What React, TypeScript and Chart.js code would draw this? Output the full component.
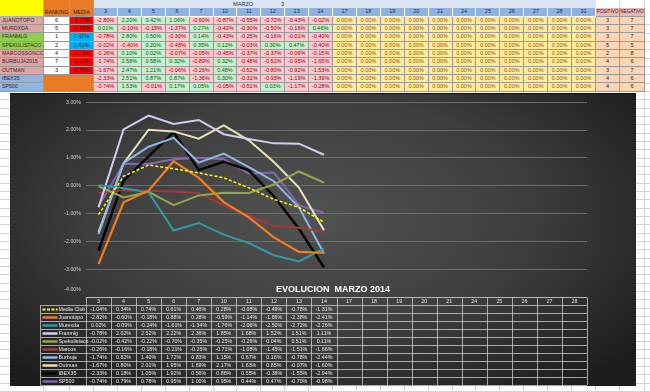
import React, { useEffect, useRef } from 'react';
import { Chart, registerables } from 'chart.js';
Chart.register(...registerables);

// ---------- chart data ----------
const categories = ['3', '4', '5', '6', '7', '10', '11', '12', '13', '14', '17', '18', '19', '20', '21', '24', '25', '26', '27', '28'];
const seriesNames = ['Media Club', 'Juanotopo', 'Murexda', 'Franmlg', 'Spekulistaco', 'Marcos', 'Burbuja', 'Outman', 'IBEX35', 'SP500'];
const mediaClub = [-1.04, 0.34, 0.74, 0.61, 0.46, 0.28, -0.08, -0.49, -0.78, -1.31];
const juanotopo = [-2.82, -0.60, -0.18, 0.88, 0.28, -0.59, -1.14, -1.86, -2.38, -2.41];
const murexda = [0.02, -0.09, -0.24, -1.61, -1.34, -1.76, -2.06, -2.50, -2.72, -2.26];
const franmlg = [-0.78, 2.02, 2.52, 2.22, 2.36, 1.85, 1.68, 1.52, 1.51, 1.11];
const spekulistaco = [-0.02, -0.42, -0.22, -0.70, -0.35, -0.25, -0.26, 0.04, 0.51, 0.11];
const marcos = [-0.26, -0.16, -0.18, -0.21, -0.26, -0.71, -1.08, -1.45, -1.51, -1.66];
const burbuja = [-1.74, 0.82, 1.40, 1.72, 0.83, 1.15, 0.67, 0.16, -0.78, -2.44];
const outman = [-1.67, 0.80, 2.01, 1.95, 1.69, 2.17, 1.63, 0.85, -0.07, -1.60];
const ibex35 = [-2.33, 0.18, 1.05, 1.92, 0.56, 0.86, 0.55, -0.38, -1.55, -2.94];
const sp500 = [-0.74, 0.79, 0.78, 0.95, 1.00, 0.95, 0.44, 0.47, -0.70, -0.98];
const seriesValues = [mediaClub, juanotopo, murexda, franmlg, spekulistaco, marcos, burbuja, outman, ibex35, sp500];
const yTicks = [3, 2, 1, 0, -1, -2, -3, -4];
const chartTitle = 'EVOLUCION  MARZO 2014';

// ---------- spreadsheet data ----------
const monthLabel = 'MARZO';
const monthNumber = '3';
const topDays = ['3', '4', '5', '6', '7', '10', '11', '12', '13', '14', '17', '18', '19', '20', '21', '24', '25', '26', '27', '28', '31'];
const players = ['JUANOTOPO', 'MURDXDA', 'FRANMLG', 'SPEKULISTACO', 'MARCOSSONCCO', 'BURBUJA2015', 'OUTMAN', 'IBEX35', 'SP500'];
const rankings = [6, 5, 1, 2, 4, 7, 3];
const medias = [-1.10, -0.95, 1.42, 1.41, -0.75, -1.15, -0.25];
const dJuanotopo = [-2.80, 2.20, 0.42, 1.06, -0.60, -0.87, -0.55, -0.72, -0.43, -0.02, 0, 0, 0, 0, 0, 0, 0, 0, 0, 0, 0];
const dMurdxda = [0.01, -0.10, -0.15, -1.37, 0.27, -0.42, -0.30, -0.50, -0.16, 0.46, 0, 0, 0, 0, 0, 0, 0, 0, 0, 0, 0];
const dFranmlg = [-0.78, 2.80, 0.50, -0.30, 0.14, -0.43, -0.25, -0.16, -0.01, -0.40, 0, 0, 0, 0, 0, 0, 0, 0, 0, 0, 0];
const dSpekulistaco = [-0.02, -0.40, 0.20, -0.48, 0.35, 0.12, -0.03, 0.30, 0.47, -0.40, 0, 0, 0, 0, 0, 0, 0, 0, 0, 0, 0];
const dMarcos = [-0.26, 0.10, 0.02, -0.07, -0.05, -0.45, -0.37, -0.37, -0.06, -0.15, 0, 0, 0, 0, 0, 0, 0, 0, 0, 0, 0];
const dBurbuja = [-1.74, 2.56, 0.58, 0.32, -0.89, 0.32, -0.48, -0.51, -0.95, -1.65, 0, 0, 0, 0, 0, 0, 0, 0, 0, 0, 0];
const dOutman = [-1.67, 2.47, 1.21, -0.06, -0.26, 0.48, -0.52, -0.80, -0.92, -1.53, 0, 0, 0, 0, 0, 0, 0, 0, 0, 0, 0];
const dIbex35 = [-2.33, 2.51, 0.87, 0.87, -1.36, 0.30, -0.31, -0.93, -1.19, -1.39, 0, 0, 0, 0, 0, 0, 0, 0, 0, 0, 0];
const dSp500 = [-0.74, 1.53, -0.01, 0.17, 0.05, -0.05, -0.51, 0.03, -1.17, -0.28, 0, 0, 0, 0, 0, 0, 0, 0, 0, 0, 0];
const dailyRows = [dJuanotopo, dMurdxda, dFranmlg, dSpekulistaco, dMarcos, dBurbuja, dOutman, dIbex35, dSp500];
const positivos = [3, 3, 3, 5, 2, 4, 3, 4, 4];
const negativos = [7, 7, 7, 5, 8, 6, 7, 6, 6];

// ---------- styles ----------
const seriesColors = ['#ffff00', '#f47d1e', '#2f9aa6', '#d3ccec', '#93a84e', '#a23b38', '#8fb6e6', '#e9e2b8', '#000000', '#8466b0'];
const seriesWidths = [1.5, 2.2, 2, 2, 2, 2, 2, 2, 2.4, 2];
const nameBg = ['#dea3a2', '#dea3a2', '#8ed04d', '#8ed04d', '#dea3a2', '#dea3a2', '#dea3a2', '#8fb4e3', '#8fb4e3'];
const FONT = '"Liberation Sans", Arial, sans-serif';

const fmt = (v: number) => v.toFixed(2) + '%';

const tablePlugin = {
  id: 'dataTable',
  afterDraw(chart: any) {
    const { ctx, chartArea: ca, scales } = chart;
    const xs = scales.x;
    const ys = scales.y;
    const n = categories.length;
    const band = (ca.right - ca.left) / n;
    const top = Math.round(ys.getPixelForValue(-4)) + 0.5;
    const headH = 7.5;
    const rowH = 8;
    const legendLeft = 30.5;
    const bottom = top + headH + rowH * seriesNames.length;
    ctx.save();
    ctx.fillStyle = '#ffffff';
    ctx.font = 'bold 9px ' + FONT;
    ctx.textAlign = 'center';
    ctx.textBaseline = 'middle';
    ctx.fillText(chartTitle, 323, top - 8);
    ctx.font = '5.3px ' + FONT;
    ctx.fillStyle = '#d0d0d0';
    ctx.textAlign = 'right';
    ctx.fillText(fmt(-4), ca.left - 5, top - 8);
    ctx.strokeStyle = 'rgba(210,210,210,0.75)';
    ctx.lineWidth = 1;
    ctx.beginPath();
    ctx.moveTo(ca.left, top);
    ctx.lineTo(ca.right, top);
    for (let r = 0; r <= seriesNames.length; r++) {
      const yy = Math.round(top + headH + r * rowH) + 0.5;
      ctx.moveTo(legendLeft, yy);
      ctx.lineTo(ca.right, yy);
    }
    for (let i = 0; i <= n; i++) {
      const xx = Math.round(ca.left + i * band) + 0.5;
      ctx.moveTo(xx, top);
      ctx.lineTo(xx, bottom);
    }
    ctx.moveTo(legendLeft, top + headH);
    ctx.lineTo(legendLeft, bottom);
    ctx.stroke();
    ctx.fillStyle = '#e8e8e8';
    ctx.font = '5.3px ' + FONT;
    ctx.textAlign = 'center';
    categories.forEach((c, i) => ctx.fillText(c, xs.getPixelForValue(i), top + headH / 2 + 0.5));
    seriesNames.forEach((name, r) => {
      const cy = top + headH + r * rowH + rowH / 2 + 0.5;
      ctx.save();
      ctx.strokeStyle = seriesColors[r];
      ctx.lineWidth = r === 0 ? 2 : 2.5;
      if (r === 0) ctx.setLineDash([3, 1.5]);
      ctx.beginPath();
      ctx.moveTo(legendLeft + 2, cy);
      ctx.lineTo(legendLeft + 17, cy);
      ctx.stroke();
      ctx.restore();
      ctx.fillStyle = '#ececec';
      ctx.textAlign = 'left';
      ctx.fillText(name, legendLeft + 18, cy);
      ctx.textAlign = 'center';
      seriesValues[r].forEach((v, i) => ctx.fillText(fmt(v), xs.getPixelForValue(i), cy));
    });
    ctx.restore();
  },
};

const colX = (() => {
  const xs = [0, 44, 70, 94];
  const w = (596 - 94) / topDays.length;
  for (let i = 1; i <= topDays.length; i++) xs.push(94 + i * w);
  xs.push(620, 645);
  return xs;
})();
const ROW0 = 0, ROW1 = 8.4, DATA0 = 16.8, RH = 8.33;

function Cell(props: { l: number; t: number; w: number; h: number; bg: string; color?: string; text?: string; bold?: boolean; align?: string; border?: string; size?: number }) {
  const { l, t, w, h, bg, color = '#222', text = '', bold = false, align = 'center', border = '#9a9a9a', size = 5.5 } = props;
  return (
    <div
      style={{
        position: 'absolute', left: l, top: t, width: w, height: h, background: bg, color,
        boxSizing: 'border-box', borderRight: `1px solid ${border}`, borderBottom: `1px solid ${border}`,
        fontSize: size, lineHeight: `${h - 1}px`, textAlign: align as any, fontWeight: bold ? 700 : 400,
        whiteSpace: 'nowrap', overflow: 'hidden', paddingLeft: align === 'left' ? 2 : 0, fontFamily: FONT,
      }}
    >
      {text}
    </div>
  );
}

function TopTable() {
  const cells: any[] = [];
  cells.push(<Cell key="corner" l={0} t={0} w={44} h={DATA0} bg="#ffff00" border="#b0b0b0" />);
  cells.push(
    <div key="rankh" style={{ position: 'absolute', left: 44, top: 0, width: 26, height: DATA0, background: '#e97b25', borderRight: '1px solid #9a9a9a', borderBottom: '1px solid #9a9a9a', boxSizing: 'border-box', fontSize: 5.2, color: '#3a2010', textAlign: 'center', lineHeight: '6px', paddingTop: 9, fontFamily: FONT }}>RANKING</div>
  );
  cells.push(
    <div key="mediah" style={{ position: 'absolute', left: 70, top: 0, width: 24, height: DATA0, background: '#e97b25', borderRight: '1px solid #9a9a9a', borderBottom: '1px solid #9a9a9a', boxSizing: 'border-box', fontSize: 5.2, color: '#3a2010', textAlign: 'center', lineHeight: '6px', paddingTop: 9, fontFamily: FONT }}>MEDIA</div>
  );
  cells.push(
    <div key="month" style={{ position: 'absolute', left: 94, top: ROW0, width: 596 - 94, height: ROW1, background: '#dce6f2', fontFamily: FONT, fontSize: 5.6, color: '#1f2f4f' }}>
      <span style={{ position: 'absolute', left: 139, top: 0, lineHeight: '8px' }}>{monthLabel}</span>
      <span style={{ position: 'absolute', left: 187, top: 0, lineHeight: '8px' }}>{monthNumber}</span>
    </div>
  );
  topDays.forEach((d, i) => {
    cells.push(<Cell key={'dh' + i} l={colX[3 + i]} t={ROW1} w={colX[4 + i] - colX[3 + i]} h={DATA0 - ROW1} bg="#8db3e2" color="#1f2f55" text={d} border="#ffffff" />);
  });
  const pi = colX.length - 3;
  cells.push(<Cell key="posh" l={colX[pi]} t={ROW1} w={colX[pi + 1] - colX[pi]} h={DATA0 - ROW1} bg="#e6b8b7" color="#3a1a1a" text="POSITIVO" size={4.6} />);
  cells.push(<Cell key="negh" l={colX[pi + 1]} t={ROW1} w={colX[pi + 2] - colX[pi + 1]} h={DATA0 - ROW1} bg="#e6b8b7" color="#3a1a1a" text="NEGATIVO" size={4.6} />);
  players.forEach((p, r) => {
    const t = DATA0 + r * RH;
    cells.push(<Cell key={'n' + r} l={0} t={t} w={44} h={RH} bg={nameBg[r]} color="#3a2626" text={p} align="left" size={5.2} />);
    if (r < rankings.length) {
      cells.push(<Cell key={'r' + r} l={44} t={t} w={26} h={RH} bg="#ffffff" color="#111" text={String(rankings[r])} />);
      const m = medias[r];
      cells.push(<Cell key={'m' + r} l={70} t={t} w={24} h={RH} bg={m >= 0 ? '#00b0f0' : '#ff0000'} color={m >= 0 ? '#10304a' : '#5a0000'} text={fmt(m)} />);
    }
    dailyRows[r].forEach((v, i) => {
      let bg = '#ffeb9c', color = '#9c5700';
      if (v > 0) { bg = '#c6efce'; color = '#006100'; }
      else if (v < 0) { bg = '#ffc7ce'; color = '#9c0006'; }
      cells.push(<Cell key={'v' + r + '_' + i} l={colX[3 + i]} t={t} w={colX[4 + i] - colX[3 + i]} h={RH} bg={bg} color={color} text={fmt(v)} />);
    });
    cells.push(<Cell key={'p' + r} l={colX[pi]} t={t} w={colX[pi + 1] - colX[pi]} h={RH} bg="#fcd5b4" color="#222" text={String(positivos[r])} />);
    cells.push(<Cell key={'g' + r} l={colX[pi + 1]} t={t} w={colX[pi + 2] - colX[pi + 1]} h={RH} bg="#fcd5b4" color="#222" text={String(negativos[r])} />);
  });
  cells.push(<Cell key="idx" l={44} t={DATA0 + 7 * RH} w={50} h={RH * 2} bg="#e97b25" />);
  return <>{cells}</>;
}

export default function App() {
  const ref = useRef<HTMLCanvasElement>(null);
  useEffect(() => {
    if (!ref.current) return;
    const chart = new Chart(ref.current, {
      type: 'line',
      data: {
        labels: categories,
        datasets: seriesNames.map((name, i) => ({
          label: name,
          data: seriesValues[i],
          borderColor: seriesColors[i],
          borderWidth: seriesWidths[i],
          borderDash: i === 0 ? [3, 2] : [],
          pointRadius: 0,
          tension: 0,
          fill: false,
        })),
      },
      options: {
        animation: false,
        responsive: false,
        devicePixelRatio: 1,
        layout: { padding: { left: 0, right: 49, top: 3, bottom: 89 } },
        plugins: { legend: { display: false }, tooltip: { enabled: false }, title: { display: false } },
        scales: {
          x: { type: 'category', offset: true, display: false },
          y: {
            min: -4,
            max: 3,
            afterFit: (s: any) => { s.width = 76; },
            afterBuildTicks: (s: any) => { s.ticks = yTicks.map((v) => ({ value: v })); },
            ticks: {
              color: '#d0d0d0',
              font: { size: 5.3, family: FONT },
              padding: 5,
              callback: (v: any) => (Number(v) === -4 ? '' : fmt(Number(v))),
            },
            grid: { color: '#6c6c6c', lineWidth: 1, drawTicks: false },
            border: { display: false },
          },
        },
      },
      plugins: [tablePlugin],
    });
    return () => chart.destroy();
  }, []);

  const gridLines: any[] = [];
  colX.forEach((x, i) => gridLines.push(<div key={'gv' + i} style={{ position: 'absolute', left: x - 1, top: 0, width: 1, height: 392, background: '#d4d4d4' }} />));

  return (
    <div style={{ position: 'absolute', left: 0, top: 0, width: 650, height: 392, overflow: 'hidden', background: '#ffffff', fontFamily: FONT }}>
      <div style={{ position: 'absolute', left: 0, top: DATA0, width: 650, height: 392, background: `repeating-linear-gradient(to bottom, transparent 0px, transparent ${RH - 1}px, #d4d4d4 ${RH - 1}px, #d4d4d4 ${RH}px)` }} />
      {gridLines}
      <TopTable />
      <div style={{ position: 'absolute', left: 10, top: 93, width: 626, height: 293, background: 'radial-gradient(ellipse 65% 75% at 48% 42%, #525252 0%, #3d3d3d 55%, #1d1d1d 100%)', borderTop: '1px solid #111', boxSizing: 'border-box' }}>
        <canvas ref={ref} width={626} height={292} style={{ display: 'block' }} />
      </div>
    </div>
  );
}
